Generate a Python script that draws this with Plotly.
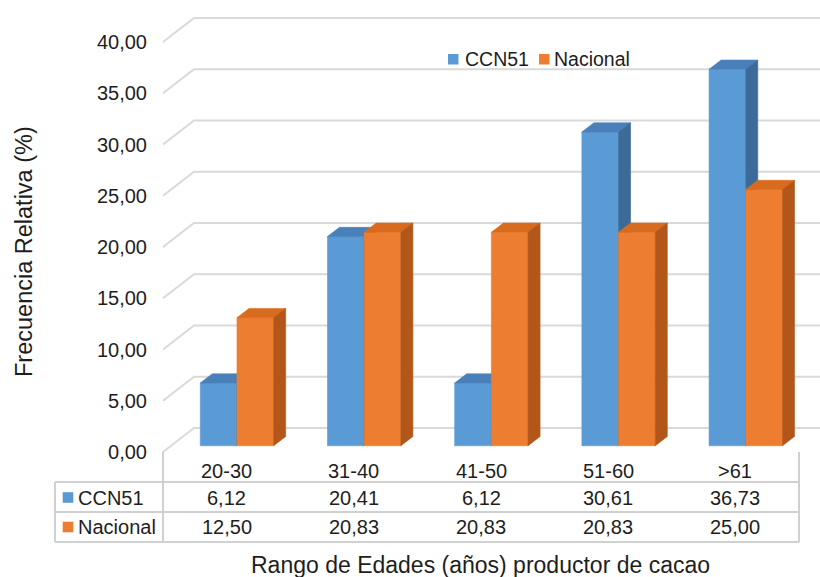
import plotly.graph_objects as go

# ---- data -------------------------------------------------------------
categories = ["20-30", "31-40", "41-50", "51-60", ">61"]
ccn51 = [6.12, 20.41, 6.12, 30.61, 36.73]
nacional = [12.50, 20.83, 20.83, 20.83, 25.00]
series_names = ["CCN51", "Nacional"]
y_ticks = [0, 5, 10, 15, 20, 25, 30, 35, 40]

# ---- canvas / axis mapping -------------------------------------------
W, H = 820, 577
FONT = "Liberation Sans, Arial, sans-serif"
TXT = "#1e1e1e"
GRID = "#d9d9d9"
TABLE_LINE = "#d0d0d0"

# face colours: front, top, side
BLUE = ("#5b9bd5", "#4a80b9", "#3d6b99")
ORANGE = ("#ed7d31", "#d86b1e", "#b2561a")

X_LEFT_PX = 158            # left edge of the plotting domain
X_RANGE = [-0.5 - 5 / 127.2, 4.5 + 21 / 127.2]
Y_RANGE = [-(H - 452) / 10.25, 452 / 10.25]

# 3D look: depth of the floor and of the bars (in data units)
DXG, DYG = 31 / 127.2, 24 / 10.25
BAR_W = 36.7 / 127.2
BAR_LEFT = -0.207
BAR_BASE = 0.26 * DYG
DXB, DYB = 12 / 127.2, 9.2 / 10.25


def px(x):
    return x / W


def py(y):
    return 1 - y / H


fig = go.Figure()

# ---- gridlines (front stub + back wall line) -------------------------
gx, gy = [], []
for t in y_ticks:
    gx += [-0.5, -0.5 + DXG, X_RANGE[1], None]
    gy += [t, t + DYG, t + DYG, None]
fig.add_trace(go.Scatter(x=gx, y=gy, mode="lines",
                         line=dict(color=GRID, width=2),
                         hoverinfo="skip", showlegend=False))


# ---- 3D bars ----------------------------------------------------------
def faces(values, shift):
    front = ([], [])
    top = ([], [])
    side = ([], [])
    for i, v in enumerate(values):
        x0 = i + BAR_LEFT + shift
        x1 = x0 + BAR_W
        b, t = BAR_BASE, BAR_BASE + v
        front[0].extend([x0, x1, x1, x0, x0, None])
        front[1].extend([b, b, t, t, b, None])
        top[0].extend([x0, x1, x1 + DXB, x0 + DXB, x0, None])
        top[1].extend([t, t, t + DYB, t + DYB, t, None])
        side[0].extend([x1, x1 + DXB, x1 + DXB, x1, x1, None])
        side[1].extend([b, b + DYB, t + DYB, t, b, None])
    return front, top, side


for name, vals, cols, shift in [(series_names[0], ccn51, BLUE, 0.0),
                                (series_names[1], nacional, ORANGE, BAR_W)]:
    for (xs, ys), c in zip(faces(vals, shift), cols):
        fig.add_trace(go.Scatter(x=xs, y=ys, mode="lines", fill="toself",
                                 fillcolor=c, line=dict(color=c, width=0.6),
                                 name=name, hoverinfo="skip",
                                 showlegend=False))

# ---- legend (top, inside plot) ---------------------------------------
shapes = []
annotations = []
for (sx0, tx), name, col in [((448, 465), series_names[0], BLUE[0]),
                             ((539, 554), series_names[1], ORANGE[0])]:
    shapes.append(dict(type="rect", xref="paper", yref="paper",
                       x0=px(sx0), x1=px(sx0 + 10.5), y0=py(64.5), y1=py(54),
                       fillcolor=col, line=dict(width=0)))
    annotations.append(dict(text=name, xref="paper", yref="paper",
                            x=px(tx - 2), y=py(59), xanchor="left",
                            yanchor="middle", showarrow=False,
                            font=dict(size=19.5, color=TXT, family=FONT)))

# ---- data table below the plot ---------------------------------------
T_TOP, R1, R2, R3 = 452, 482, 512, 542
T_LEFT, T_SPLIT, T_RIGHT = 55, 163, 799


def hline(y, xa, xb):
    shapes.append(dict(type="line", xref="paper", yref="paper",
                       x0=px(xa), x1=px(xb), y0=py(y), y1=py(y),
                       line=dict(color=TABLE_LINE, width=2)))


def vline(x, ya, yb):
    shapes.append(dict(type="line", xref="paper", yref="paper",
                       x0=px(x), x1=px(x), y0=py(ya), y1=py(yb),
                       line=dict(color=TABLE_LINE, width=2)))


for y in (R1, R2, R3):
    hline(y, T_LEFT, T_RIGHT)
vline(T_LEFT, R1, R3)
vline(T_SPLIT, T_TOP, R3)
vline(T_RIGHT, T_TOP, R3)


def fmt(v):
    return f"{v:.2f}".replace(".", ",")


for i, cat in enumerate(categories):
    annotations.append(dict(text=cat, xref="x", yref="paper", x=i,
                            y=py(470.5), xanchor="center", yanchor="middle",
                            showarrow=False,
                            font=dict(size=20, color=TXT, family=FONT)))
    for vals, yc in ((ccn51, 497.5), (nacional, 527)):
        annotations.append(dict(text=fmt(vals[i]), xref="x", yref="paper",
                                x=i, y=py(yc), xanchor="center",
                                yanchor="middle", showarrow=False,
                                font=dict(size=20, color=TXT, family=FONT)))

for name, col, yc in ((series_names[0], BLUE[0], 497.5),
                      (series_names[1], ORANGE[0], 527)):
    shapes.append(dict(type="rect", xref="paper", yref="paper",
                       x0=px(62.7), x1=px(73.3), y0=py(yc + 5.3),
                       y1=py(yc - 5.3), fillcolor=col, line=dict(width=0)))
    annotations.append(dict(text=name, xref="paper", yref="paper",
                            x=px(76), y=py(yc), xanchor="left",
                            yanchor="middle", showarrow=False,
                            font=dict(size=20, color=TXT, family=FONT)))

# ---- axis titles ------------------------------------------------------
annotations.append(dict(text="Rango de Edades (años) productor de cacao",
                        xref="paper", yref="paper", x=px(480.5), y=py(565),
                        xanchor="center", yanchor="middle", showarrow=False,
                        font=dict(size=23, color=TXT, family=FONT)))
annotations.append(dict(text="Frecuencia Relativa (%)", textangle=-90,
                        xref="paper", yref="paper", x=px(24), y=py(252),
                        xanchor="center", yanchor="middle", showarrow=False,
                        font=dict(size=23.5, color=TXT, family=FONT)))

fig.update_layout(
    width=W, height=H,
    margin=dict(l=0, r=0, t=0, b=0),
    paper_bgcolor="white", plot_bgcolor="rgba(0,0,0,0)",
    separators=",.",
    showlegend=False,
    shapes=shapes, annotations=annotations,
    xaxis=dict(domain=[X_LEFT_PX / W, 1], range=X_RANGE, visible=False,
               fixedrange=True),
    yaxis=dict(domain=[0, 1], range=Y_RANGE, tickvals=y_ticks,
               tickformat=".2f", showgrid=False, zeroline=False,
               showline=False, ticks="", ticklabelstandoff=10,
               tickfont=dict(size=20, color=TXT, family=FONT),
               fixedrange=True),
)

fig.write_html("out.html")
